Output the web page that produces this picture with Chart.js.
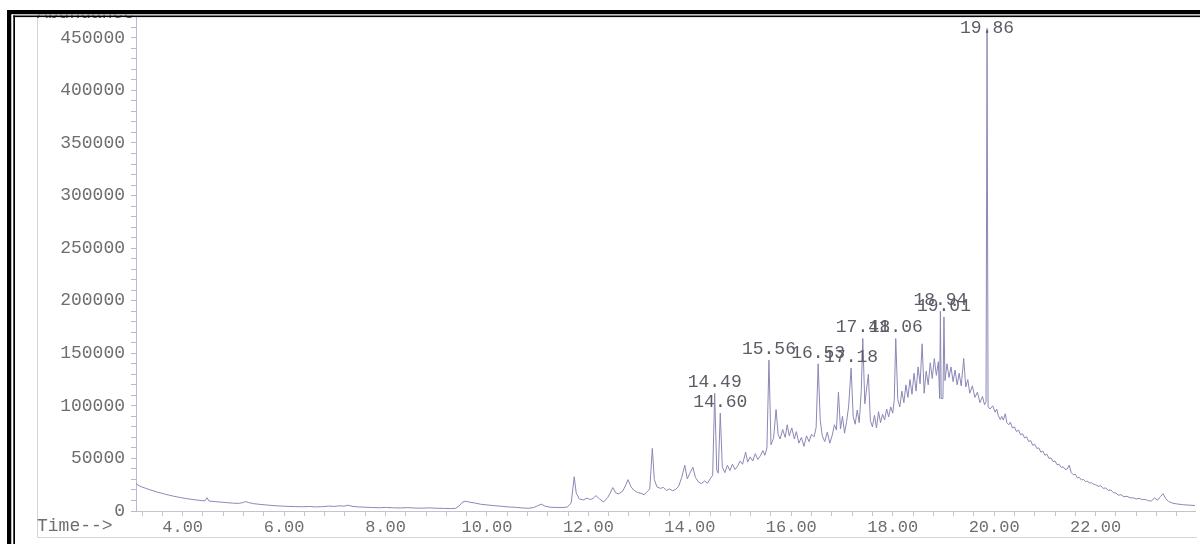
<!DOCTYPE html>
<html>
<head>
<meta charset="utf-8">
<title>TIC</title>
<script src="https://cdn.jsdelivr.net/npm/chart.js@4/dist/chart.umd.min.js"></script>
<style>
  html, body { margin: 0; padding: 0; background: #ffffff; overflow: hidden; }
  canvas { display: block; }
</style>
</head>
<body>
<canvas id="tic" width="1200" height="544"></canvas>
<script>
// Total ion chromatogram: retention time (min) against abundance
const retentionTimes = [
  3.08, 3.14, 3.2, 3.27, 3.34, 3.42, 3.5, 3.58, 3.66, 3.74, 3.82, 3.9, 3.98,
  4.06, 4.14, 4.22, 4.3, 4.38, 4.44, 4.48, 4.52, 4.62, 4.74, 4.86, 4.98,
  5.1, 5.18, 5.24, 5.3, 5.4, 5.52, 5.66, 5.8, 5.94,
  6.08, 6.22, 6.36, 6.5, 6.62, 6.76, 6.88, 6.98,
  7.08, 7.18, 7.26, 7.34, 7.46, 7.6, 7.74, 7.88,
  8.02, 8.16, 8.3, 8.44, 8.58, 8.72, 8.86,
  9.0, 9.14, 9.28, 9.38, 9.46, 9.52, 9.58, 9.66, 9.76, 9.88,
  10.0, 10.14, 10.28, 10.42, 10.56, 10.7, 10.82, 10.92,
  11.0, 11.07, 11.14, 11.24, 11.36, 11.48, 11.58, 11.66, 11.72, 11.76, 11.82, 11.9, 11.97,
  12.04, 12.1, 12.15, 12.22, 12.3, 12.38, 12.44, 12.48, 12.54, 12.6, 12.68, 12.74, 12.78, 12.84, 12.9, 12.97,
  13.04, 13.1, 13.16, 13.21, 13.26, 13.3, 13.35, 13.42, 13.48, 13.54, 13.6, 13.66, 13.72, 13.78, 13.84, 13.9, 13.95,
  14.0, 14.06, 14.11, 14.17, 14.23, 14.29, 14.35, 14.4, 14.45, 14.49, 14.53, 14.56, 14.6, 14.64, 14.69, 14.74, 14.79, 14.84, 14.89, 14.94, 14.99,
  15.04, 15.1, 15.14, 15.19, 15.24, 15.29, 15.34, 15.39, 15.44, 15.48, 15.52, 15.56, 15.6, 15.65, 15.7, 15.74, 15.78, 15.83, 15.88, 15.92, 15.96,
  16.01, 16.06, 16.1, 16.15, 16.2, 16.25, 16.3, 16.35, 16.4, 16.45, 16.49, 16.53, 16.57, 16.61, 16.66, 16.71, 16.76, 16.81, 16.85, 16.89, 16.93, 16.97,
  17.01, 17.05, 17.09, 17.13, 17.18, 17.22, 17.26, 17.3, 17.34, 17.38, 17.41, 17.45, 17.49, 17.52, 17.56, 17.6, 17.64, 17.68, 17.72, 17.76, 17.8, 17.84, 17.88, 17.92, 17.96,
  18.0, 18.03, 18.06, 18.1, 18.14, 18.18, 18.22, 18.26, 18.3, 18.34, 18.38, 18.42, 18.46, 18.5, 18.54, 18.58, 18.62, 18.66, 18.7, 18.74, 18.78, 18.82, 18.86, 18.9, 18.925, 18.94, 18.955, 18.99,
  19.01, 19.03, 19.07, 19.11, 19.15, 19.19, 19.23, 19.27, 19.31, 19.35, 19.4, 19.44, 19.48, 19.52, 19.57, 19.62, 19.67, 19.72, 19.77, 19.81, 19.84, 19.86, 19.88, 19.92, 19.97,
  20.02, 20.05, 20.08, 20.12, 20.15, 20.18, 20.22, 20.25, 20.29, 20.32, 20.36, 20.4, 20.44, 20.48, 20.52, 20.56, 20.6, 20.64, 20.68, 20.72, 20.76, 20.8, 20.84, 20.88, 20.92, 20.96,
  21.0, 21.04, 21.08, 21.12, 21.16, 21.2, 21.24, 21.28, 21.32, 21.36, 21.4, 21.44, 21.48, 21.52, 21.56, 21.6, 21.64, 21.68, 21.72, 21.76, 21.8, 21.84, 21.88, 21.92, 21.96,
  22.0, 22.05, 22.1, 22.15, 22.2, 22.25, 22.3, 22.35, 22.4, 22.45, 22.5, 22.56, 22.62, 22.68, 22.74, 22.8, 22.86, 22.92, 22.98,
  23.04, 23.1, 23.16, 23.22, 23.28, 23.33, 23.38, 23.44, 23.52, 23.62, 23.72, 23.84, 23.96
];

const abundance = [
  26000, 24000, 22800, 21600, 20400, 19200, 17900, 17000, 15900, 15000, 14100, 13300, 12600,
  11900, 11300, 10800, 10300, 9900, 9700, 12600, 9500, 9000, 8500, 8000, 7500,
  7200, 7900, 8900, 8000, 7000, 6300, 5700, 5100, 4700,
  4400, 4200, 4000, 4300, 3900, 4100, 4700, 4300,
  4900, 4600, 5500, 4500, 3900, 3600, 3300, 3100,
  3400, 3000, 2900, 3200, 2800, 2700, 3000,
  2600, 2500, 2300, 2500, 5200, 8600, 9300, 8400, 7600, 6400,
  5800, 5100, 4500, 3900, 3500, 2900, 2600, 3300,
  5000, 6500, 4700, 3600, 3400, 3300, 3700, 7500, 32500, 17000, 11500, 10500, 12300,
  10800, 12400, 14600, 11400, 8600, 12800, 18000, 22300, 17200, 16300, 19200, 25000, 29800, 23000, 19600, 17600,
  16800, 15500, 18500, 21000, 59500, 30000, 23000, 21500, 22500, 19500, 21000, 19300, 20500, 23500, 32000, 43500, 30500,
  36000, 41500, 32000, 27500, 26000, 28500, 26500, 30500, 34000, 112000, 39000, 36000, 93000, 42000, 36500, 43500, 38500, 44500, 39500, 42500, 47500,
  44500, 56000, 46500, 51500, 47500, 54500, 49000, 52500, 57500, 53000, 60000, 143500, 63000, 69000, 96500, 73000, 68500, 77500, 70000, 82000, 71500,
  79000, 68500, 75500, 64500, 70000, 61500, 71500, 66000, 73000, 70500, 79500, 140000, 87000, 71500, 66000, 75000, 64500, 72500, 82000, 77000, 113000, 78000,
  90000, 74000, 85000, 99000, 136000, 90000, 82500, 96000, 84000, 114500, 164000, 102000, 118000, 130000, 86000, 80000, 91000, 79000, 94500, 84000, 92000, 86500, 97000, 89500, 99000,
  93000, 105000, 164000, 106000, 99000, 114000, 103000, 120000, 108000, 125000, 111000, 131000, 114000, 137000, 121000, 159000, 112000, 133000, 120000, 141000, 126000, 145000, 129000, 142000, 107000, 190000, 107000, 107000,
  184500, 124000, 140000, 127000, 137000, 123000, 134000, 120000, 131000, 119000, 145000, 118000, 125000, 112000, 119000, 108000, 113000, 103000, 109000, 101000, 104000, 459000, 99000, 97000, 100000,
  94000, 97000, 91000, 87000, 90000, 86500, 92500, 84000, 82000, 84500, 79000, 80000, 75500, 77000, 72500, 73500, 69500, 70500, 66000, 67000, 62500, 63500, 59500, 60000, 56000, 57000,
  53000, 54000, 50000, 50500, 47000, 47500, 44000, 44500, 41500, 42000, 39500, 40000, 43500, 36500, 34500, 35000, 31500, 32000, 29500, 30000, 28000, 28500, 26500, 27000, 25500,
  25000, 23500, 24000, 21500, 22000, 19500, 20000, 17500, 17000, 15000, 15500, 13500, 14000, 12500, 12500, 11500, 12000, 10800, 11000,
  9800, 9400, 12500, 10200, 13800, 16500, 12000, 9000, 7400, 6600, 6000, 5600, 5200
];

// Integrated peaks annotated with their retention times
const peakTimes = [14.49, 14.60, 15.56, 16.53, 17.18, 17.41, 18.06, 18.94, 19.01, 19.86];
const peakLabels = ['14.49', '14.60', '15.56', '16.53', '17.18', '17.41', '18.06', '18.94', '19.01', '19.86'];

// Axis labels
const xTickLabels = ['4.00', '6.00', '8.00', '10.00', '12.00', '14.00', '16.00', '18.00', '20.00', '22.00'];
const yTickLabels = ['0', '50000', '100000', '150000', '200000', '250000', '300000', '350000', '400000', '450000'];
const xAxisTitle = 'Time-->';
const yAxisTitle = 'Abundance';

const MONO = '"Liberation Mono", "DejaVu Sans Mono", monospace';
const TEXT_GREY = '#6e6e6e';
const AXIS_GREY = '#b9bccf';

const points = retentionTimes.map((t, i) => ({ x: t, y: abundance[i] }));

// Peak annotations, frame and axis captions
const decorations = {
  id: 'decorations',
  afterDraw(chart) {
    const ctx = chart.ctx;
    const xs = chart.scales.x;
    const ys = chart.scales.y;

    ctx.save();
    // thin surrounding box of the plot page
    ctx.strokeStyle = '#d9d0d8';
    ctx.lineWidth = 1;
    ctx.beginPath();
    ctx.moveTo(37.5, 15);
    ctx.lineTo(37.5, 537.5);
    ctx.lineTo(1197, 537.5);
    ctx.stroke();

    // peak labels
    ctx.font = '18px ' + MONO;
    ctx.fillStyle = '#5c5c66';
    ctx.textAlign = 'center';
    ctx.textBaseline = 'middle';
    peakTimes.forEach((t, i) => {
      const idx = retentionTimes.indexOf(t);
      const px = xs.getPixelForValue(t);
      const py = ys.getPixelForValue(abundance[idx]);
      const ly = Math.max(py - 11, 28);
      ctx.fillText(peakLabels[i], px, ly);
    });

    // x axis caption
    ctx.fillStyle = TEXT_GREY;
    ctx.textAlign = 'left';
    ctx.fillText(xAxisTitle, 37, 526);

    // y axis caption, partly under the frame
    ctx.fillStyle = '#555555';
    ctx.textBaseline = 'alphabetic';
    ctx.fillText(yAxisTitle, 37, 17.5);

    // page frame
    ctx.fillStyle = '#ffffff';
    ctx.fillRect(0, 0, 1200, 10);
    ctx.fillRect(0, 0, 7, 544);
    ctx.fillStyle = '#000000';
    ctx.fillRect(7, 10, 1193, 4.5);
    ctx.fillRect(7, 10, 4.5, 534);
    ctx.fillStyle = '#ffffff';
    ctx.fillRect(11.5, 14.5, 1188.5, 1);
    ctx.fillRect(11.5, 14.5, 1.8, 529.5);
    ctx.fillStyle = '#000000';
    ctx.fillRect(13.3, 15.5, 1186.7, 1.6);
    ctx.fillRect(13.3, 15.5, 1.7, 528.5);
    ctx.restore();
  }
};

new Chart(document.getElementById('tic'), {
  type: 'scatter',
  data: {
    datasets: [{
      data: points,
      showLine: true,
      borderColor: '#8a88b6',
      borderWidth: 1,
      pointRadius: 0,
      pointHoverRadius: 0,
      tension: 0
    }]
  },
  options: {
    responsive: false,
    devicePixelRatio: 1,
    animation: false,
    events: [],
    layout: { padding: { left: 0, right: 5, top: 16, bottom: 0 } },
    plugins: {
      legend: { display: false },
      tooltip: { enabled: false },
      title: { display: false }
    },
    scales: {
      x: {
        type: 'linear',
        min: 3.08,
        max: 23.96,
        afterBuildTicks(scale) {
          const ticks = [];
          for (let k = 8; k <= 59; k++) ticks.push({ value: Math.round(k * 4) / 10 });
          scale.ticks = ticks;
        },
        afterFit(scale) { scale.height = 33; },
        border: { display: true, color: '#c4c4cc', width: 1 },
        grid: {
          display: true,
          drawOnChartArea: false,
          drawTicks: true,
          tickLength: 5,
          color: '#c4c4cc'
        },
        ticks: {
          autoSkip: false,
          maxRotation: 0,
          padding: 1,
          color: TEXT_GREY,
          font: { family: MONO, size: 17 },
          callback(value) {
            const r = Math.round(value * 10) / 10;
            if (Math.abs(r / 2 - Math.round(r / 2)) < 1e-6) {
              const i = Math.round(r / 2) - 2;
              return xTickLabels[i] !== undefined ? xTickLabels[i] : '';
            }
            return '';
          }
        }
      },
      y: {
        type: 'linear',
        min: 0,
        max: 470000,
        afterBuildTicks(scale) {
          const ticks = [];
          for (let k = 0; k <= 46; k++) ticks.push({ value: k * 10000 });
          scale.ticks = ticks;
        },
        afterFit(scale) { scale.width = 136; },
        border: { display: true, color: AXIS_GREY, width: 1 },
        grid: {
          display: true,
          drawOnChartArea: false,
          drawTicks: true,
          tickLength: 5,
          color: AXIS_GREY
        },
        ticks: {
          autoSkip: false,
          padding: 6,
          color: TEXT_GREY,
          font: { family: MONO, size: 18 },
          callback(value) {
            if (value % 50000 === 0) {
              const label = yTickLabels[value / 50000];
              return label !== undefined ? label : '';
            }
            return '';
          }
        }
      }
    }
  },
  plugins: [decorations]
});
</script>
</body>
</html>
